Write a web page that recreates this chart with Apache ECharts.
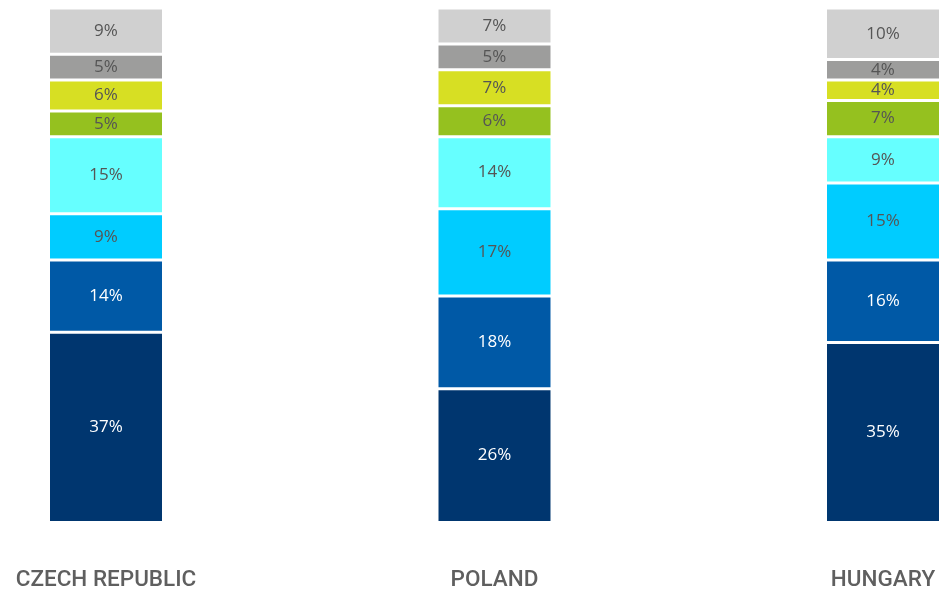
<!DOCTYPE html>
<html>
<head>
<meta charset="utf-8">
<script src="https://cdn.jsdelivr.net/npm/echarts@6/dist/echarts.min.js"></script>
<style>
  html, body { margin: 0; padding: 0; background: #ffffff; }
  #chart { width: 939px; height: 592px; }
</style>
</head>
<body>
<div id="chart"></div>
<script>
// Countries shown along the bottom
const countries = ['CZECH REPUBLIC', 'POLAND', 'HUNGARY'];

// Shares (%) per segment, stacked from the bottom up
const seg1 = [37, 26, 35];
const seg2 = [14, 18, 16];
const seg3 = [9, 17, 15];
const seg4 = [15, 14, 9];
const seg5 = [5, 6, 7];
const seg6 = [6, 7, 4];
const seg7 = [5, 5, 4];
const seg8 = [9, 7, 10];

const segments = [seg1, seg2, seg3, seg4, seg5, seg6, seg7, seg8];
const colors = ['#00366F', '#0059A6', '#00CCFF', '#66FFFF', '#95C11F', '#D7DF23', '#9D9D9C', '#D0D0D0'];
const labelColors = ['#ffffff', '#ffffff', '#555555', '#555555', '#555555', '#555555', '#555555', '#555555'];

const chart = echarts.init(document.getElementById('chart'));

chart.setOption({
  animation: false,
  grid: { left: 106, right: 56, top: 8, bottom: 69.5 },
  xAxis: {
    type: 'category',
    data: countries,
    boundaryGap: false,
    axisLine: { show: false },
    axisTick: { show: false },
    splitLine: { show: false },
    axisLabel: {
      margin: 46,
      color: '#5f5f5f',
      fontFamily: 'Roboto',
      fontWeight: 500,
      fontSize: 22.5,
      interval: 0
    }
  },
  yAxis: {
    type: 'value',
    min: 0,
    max: 100,
    show: false
  },
  series: segments.map((vals, i) => ({
    type: 'bar',
    stack: 'share',
    data: vals,
    barWidth: 115,
    clip: false,
    itemStyle: { color: colors[i], borderColor: '#ffffff', borderWidth: 1.5 },
    label: {
      show: true,
      position: 'inside',
      formatter: '{c}%',
      color: labelColors[i],
      fontFamily: 'Open Sans',
      fontSize: 17
    }
  }))
});
</script>
</body>
</html>
